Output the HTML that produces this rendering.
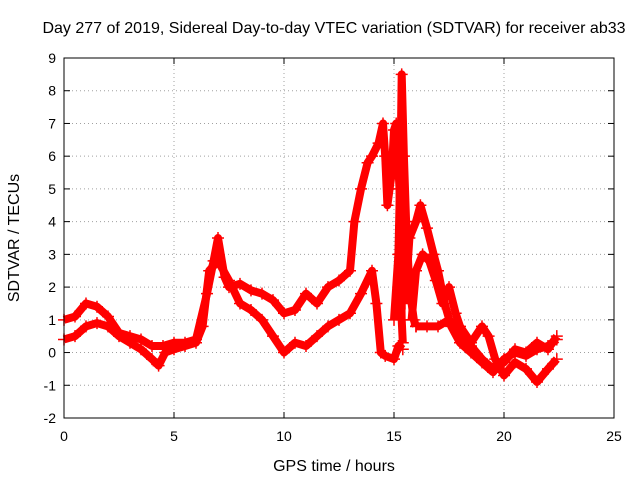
<!DOCTYPE html>
<html><head><meta charset="utf-8"><style>
body{margin:0;background:#fff;}
svg{display:block;font-family:"Liberation Sans",sans-serif;}
</style></head><body>
<svg id="chart" width="640" height="480">
<text x="334" y="33" text-anchor="middle" font-size="16" fill="#000">Day 277 of 2019, Sidereal Day-to-day VTEC variation (SDTVAR) for receiver ab33</text>
<g id="grid"></g>
<g id="axes"></g>
<g id="series"></g>
<rect x="64" y="58" width="550" height="360" fill="none" stroke="#000"/>
<text x="334" y="471" text-anchor="middle" font-size="16">GPS time / hours</text>
<text transform="translate(19,238) rotate(-90)" text-anchor="middle" font-size="16">SDTVAR / TECUs</text>
</svg>
<script>
const xTicks=[0,5,10,15,20,25];
const yTicks=[-2,-1,0,1,2,3,4,5,6,7,8,9];
const track1T=[0,0.5,1,1.5,2,2.5,3,3.5,4,4.3,4.6,5,5.5,6,6.3,6.6,7,7.5,8,8.5,9,9.5,10,10.5,11,11.5,12,12.5,13,13.5,14,14.2,14.4,14.6,15,15.2,15.4];
const track1V=[0.4,0.5,0.8,0.9,0.8,0.5,0.3,0.1,-0.2,-0.4,0,0.1,0.2,0.3,0.8,2.5,2.8,2.2,1.5,1.3,1.0,0.5,0,0.3,0.2,0.5,0.8,1.0,1.2,1.8,2.5,1.5,0,-0.1,-0.2,0.2,0.1];
const track2T=[0,0.5,1,1.5,2,2.5,3,3.5,4,4.5,5,5.5,6,6.5,6.8,7,7.3,7.5,8,8.5,9,9.5,10,10.5,11,11.5,12,12.5,13,13.2,13.5,13.8,14,14.3,14.5,14.6,14.7,14.9,15,15.1,15.25,15.3,15.35,15.4];
const track2V=[1.0,1.1,1.5,1.4,1.1,0.6,0.5,0.4,0.2,0.2,0.3,0.3,0.4,1.8,2.8,3.5,2.3,2.0,2.1,1.9,1.8,1.6,1.2,1.3,1.8,1.5,2.0,2.2,2.5,4.0,5.0,5.8,6.0,6.4,7.0,6.0,4.5,5.5,6.8,7.0,5.0,3.0,1.0,0.3];
const track3T=[15.0,15.2,15.3,15.35,15.45,15.55,15.7,15.9,16.0];
const track3V=[1.0,3.0,6.0,8.5,6.0,4.0,2.0,1.0,0.8];
const track4T=[15.5,15.7,16,16.2,16.5,16.8,17,17.3,17.6,18,18.5,19,19.5,20,20.5,21,21.5,22,22.4];
const track4V=[1.5,3.5,4.0,4.5,3.8,3.0,2.5,1.5,0.8,0.3,0,-0.3,-0.6,-0.2,0,-0.1,0.1,0.2,0.4];
const track5T=[15.8,16,16.3,16.6,16.9,17.2,17.5,17.8,18,18.5,19,19.3,19.6,20,20.5,21,21.5,22,22.4];
const track5V=[1.0,2.5,3.0,2.8,2.2,1.5,2.0,1.2,0.8,0.3,0.8,0.5,-0.2,-0.7,-0.3,-0.5,-0.9,-0.5,-0.2];
const track6T=[16,16.5,17,17.5,18,18.5,19,19.5,20,20.5,21,21.5,22,22.4];
const track6V=[0.8,0.8,0.8,1.0,0.7,0.2,-0.2,-0.5,-0.3,0.1,0,0.3,0.1,0.5];

const NS='http://www.w3.org/2000/svg';
const X0=64,X1=614,Y0=418,Y1=58;
function sx(t){return X0+(t-0)/(25-0)*(X1-X0);}
function sy(v){return Y0-(v+2)/(9+2)*(Y0-Y1);}
function mk(tag,attrs,parent){const e=document.createElementNS(NS,tag);for(const k in attrs)e.setAttribute(k,attrs[k]);parent.appendChild(e);return e;}
const grid=document.getElementById('grid'),axes=document.getElementById('axes'),ser=document.getElementById('series');
xTicks.forEach(t=>{
  const x=sx(t);
  if(t>0&&t<25){const l=mk('line',{x1:x,y1:Y0,x2:x,y2:Y1,stroke:'#a0a0a0','stroke-dasharray':'1,3'},grid);
  
  }
  mk('line',{x1:x,y1:Y0,x2:x,y2:Y0-6,stroke:'#000'},axes);
  mk('line',{x1:x,y1:Y1,x2:x,y2:Y1+6,stroke:'#000'},axes);
  const tx=mk('text',{x:x,y:Y0+23,'text-anchor':'middle','font-size':'14'},axes);
  tx.textContent=t;
  
  
});
yTicks.forEach(v=>{
  const y=sy(v);
  if(v>-2&&v<9){const l=mk('line',{x1:X0,y1:y,x2:X1,y2:y,stroke:'#a0a0a0','stroke-dasharray':'1,3'},grid);
  
  }
  mk('line',{x1:X0,y1:y,x2:X0+6,y2:y,stroke:'#000'},axes);
  mk('line',{x1:X1,y1:y,x2:X1-6,y2:y,stroke:'#000'},axes);
  const tx=mk('text',{x:X0-8,y:y+5,'text-anchor':'end','font-size':'14'},axes);
  tx.textContent=v;
  
  
});
const tracks=[[track1T,track1V],[track2T,track2V],[track3T,track3V],[track4T,track4V],[track5T,track5V],[track6T,track6V]];
tracks.forEach((tr,i)=>{
  const [T,V]=tr;
  const pts=T.map((t,j)=>sx(t)+','+sy(V[j])).join(' ');
  const pl=mk('polyline',{points:pts,fill:'none',stroke:'#ff0000','stroke-width':'8','stroke-linejoin':'round'},ser);
  
  
  T.forEach((t,j)=>{
    const x=sx(t),y=sy(V[j]);
    const p=mk('path',{d:`M${x-6},${y}H${x+6}M${x},${y-6}V${y+6}`,stroke:'#ff0000','stroke-width':'1.5'},ser);
    
    
  });
});
</script>
</body></html>
